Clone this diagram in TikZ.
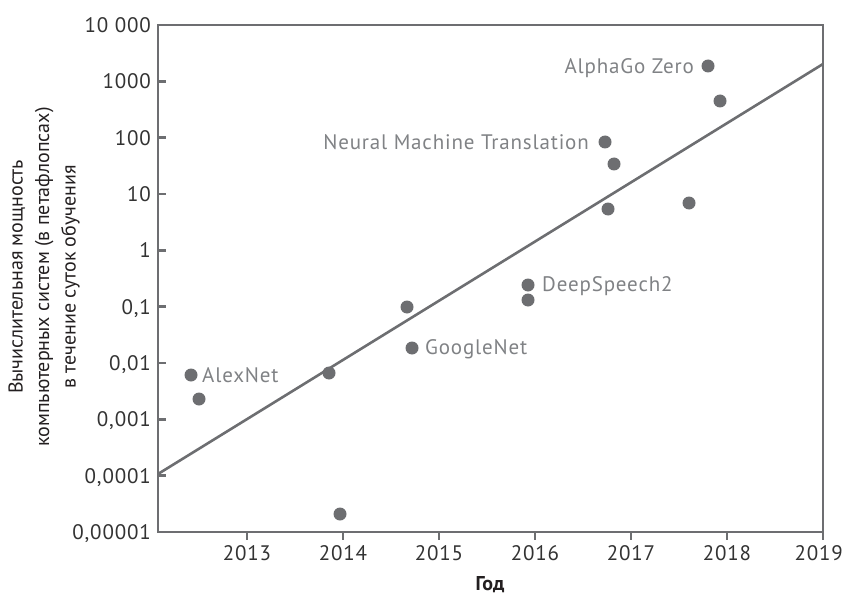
\documentclass[tikz,border=0pt]{standalone}
\usepackage{fontspec}
\setmainfont{PT Sans}
\newfontfamily\dinfont[LetterSpace=4]{PT Sans}
\definecolor{axisgray}{HTML}{6D6E71}
\definecolor{labgray}{HTML}{808285}
\definecolor{ticktext}{HTML}{333333}
\definecolor{titletext}{HTML}{231F20}
\tikzset{
  axisline/.style={draw=axisgray, line width=2.6pt},
  trendline/.style={draw=axisgray, line width=2.6pt},
  dot/.style={circle, fill=axisgray, inner sep=0pt, minimum size=13pt},
  lab/.style={text=labgray, font=\dinfont\fontsize{21}{24}\selectfont, inner sep=0pt, text depth=0pt},
  ytick/.style={text=ticktext, font=\dinfont\fontsize{21}{24}\selectfont, inner sep=0pt, anchor=east, text depth=0pt},
  xtick/.style={text=ticktext, font=\dinfont\fontsize{21}{24}\selectfont, inner sep=0pt, anchor=base},
  axtitle/.style={text=titletext, font=\fontsize{20}{26.5}\selectfont, inner sep=0pt, align=center}
}
\begin{document}
\begin{tikzpicture}[x=1pt,y=-1pt]
\useasboundingbox (0,0) rectangle (845,596);
% frame
\coordinate (tl) at (158,25);
\coordinate (tr) at (823,25);
\coordinate (bl) at (158,532);
\coordinate (br) at (823,532);
\draw[axisline] (tl) -- (tr) -- (br) -- (bl) -- cycle;
% y ticks and labels
\foreach \L/\t [count=\i] in {4/10 000,3/1000,2/100,1/10,0/1,-1/{0,1},-2/{0,01},-3/{0,001},-4/{0,0001},-5/{0,00001}}{
  \pgfmathsetmacro{\yy}{25+56.333*(4-\L)}
  \coordinate (ya\i) at (158,\yy);
  \coordinate (yb\i) at (166,\yy);
  \ifnum\i>1\ifnum\i<10 \draw[axisline] (ya\i) -- (yb\i);\fi\fi
  \node[ytick] (yl\i) at (151,\yy) {\t};
}
% x ticks and labels
\foreach \yr [count=\i] in {2013,2014,2015,2016,2017,2018,2019}{
  \pgfmathsetmacro{\xx}{151+96*(\yr-2012)}
  \coordinate (xa\i) at (\xx,532);
  \coordinate (xb\i) at (\xx,540);
  \draw[axisline] (xa\i) -- (xb\i);
  \ifnum\i<7
    \node[xtick] (xl\i) at (\xx,560) {\yr};
  \else
    \node[xtick, anchor=base east] (xl\i) at (843,560) {\yr};
  \fi
}
% trend line
\coordinate (t0) at (158,474);
\coordinate (t1) at (823,64);
\draw[trendline] (t0) -- (t1);
% dots
\node[dot] (d1) at (191,375) {};
\node[dot] (d2) at (199,399) {};
\node[dot] (d3) at (329,373) {};
\node[dot] (d4) at (340,514) {};
\node[dot] (d5) at (407,307) {};
\node[dot] (d6) at (412,348) {};
\node[dot] (d7) at (528,285) {};
\node[dot] (d8) at (528,300) {};
\node[dot] (d9) at (605,142) {};
\node[dot] (d10) at (614,164) {};
\node[dot] (d11) at (608,209) {};
\node[dot] (d12) at (689,203) {};
\node[dot] (d13) at (708,66) {};
\node[dot] (d14) at (720,101) {};
% labels
\node[lab, anchor=west] (lalex) at (202,375) {AlexNet};
\node[lab, anchor=west] (lgoog) at (425,347) {GoogleNet};
\node[lab, anchor=west] (ldeep) at (542,284) {DeepSpeech2};
\node[lab, anchor=east] (lnmt) at (589,142) {Neural Machine Translation};
\node[lab, anchor=east] (lalpha) at (694,66) {AlphaGo Zero};
% axis titles
\node[axtitle, rotate=90] (ytitle) at (44,277) {Вычислительная мощность\\компьютерных систем (в петафлопсах)\\в течение суток обучения};
\node[axtitle, font=\fontsize{20}{24}\selectfont\bfseries] (xtitle) at (490,585) {Год};
\end{tikzpicture}
\end{document}
